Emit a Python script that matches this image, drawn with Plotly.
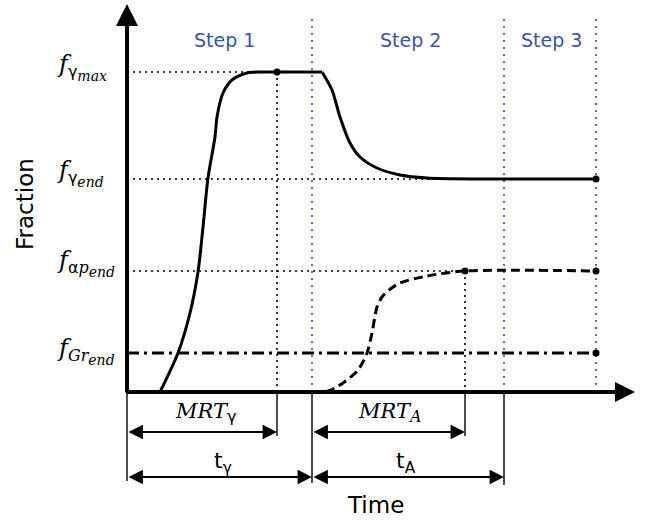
import plotly.graph_objects as go

# ---- key instants on the time axis (arbitrary units) ----
t_gamma_start = 33
t_mrt_gamma = 150
t_step1_end = 185
t_mrt_a = 338
t_step2_end = 377
t_step3_end = 469
t_axis_tip = 508

# ---- characteristic phase fractions (arbitrary units) ----
f_gamma_max = 320
f_gamma_end = 213
f_ap_end = 121
f_gr_end = 39
f_axis_tip = 388
f_step_line_top = 375

# ---- austenite fraction: formation in step 1, decomposition in step 2 ----
gamma_rise_t = [33, 51, 63, 71, 76, 81, 88, 90, 96, 105, 120, 133, 150, 195]
gamma_rise_f = [0, 39, 79, 120, 165, 214, 255, 275, 299, 312, 319, 320, 320, 320]
gamma_drop_t = [195, 205, 213, 223, 233, 250, 273, 300, 353, 469]
gamma_drop_f = [320, 302, 275, 249, 235, 224, 217, 214, 213, 213]

# ---- alpha + pearlite fraction formed in step 2 ----
ap_t = [185, 201, 216, 231, 240, 245, 250, 255, 262, 273, 300, 338, 469]
ap_f = [0, 1, 9, 22, 39, 59, 85, 95, 102, 109, 116, 121, 121]

# ---- graphite fraction ----
gr_t = [0, 469]
gr_f = [39, 39]

# ---- labels ----
step_labels = ["Step 1", "Step 2", "Step 3"]
step_label_t = [97, 283, 424]


def sub1(txt, sans=False):
    fam = "font-family:DejaVu Sans;" if sans else ""
    return f"<span style='font-size:16px;{fam}'>{txt}</span>"


def sub2(txt):
    return f"<sub><span style='font-size:14px'><i>{txt}</i></span></sub>"


level_labels = [
    "<i>f</i><sub>" + sub1("γ", True) + sub2("max") + "</sub>",
    "<i>f</i><sub>" + sub1("γ", True) + sub2("end") + "</sub>",
    "<i>f</i><sub>" + sub1("α", True) + sub1("<i>p</i>") + sub2("end") + "</sub>",
    "<i>f</i><sub>" + sub1("<i>Gr</i>") + sub2("end") + "</sub>",
]
level_values = [f_gamma_max, f_gamma_end, f_ap_end, f_gr_end]
level_label_offset = [5, 6, 8, 2]

BLUE = "#3c55a5"
BLUE_LINE = "#4a60b0"
SERIF = "DejaVu Serif"
SANS = "DejaVu Sans"

fig = go.Figure()


def seg_trace(segs, color, width, dash):
    xs, ys = [], []
    for (xa, ya), (xb, yb) in segs:
        xs += [xa, xb, None]
        ys += [ya, yb, None]
    return go.Scatter(x=xs, y=ys, mode="lines", hoverinfo="skip",
                      line=dict(color=color, width=width, dash=dash))


# black dotted guide lines
fig.add_trace(seg_trace([
    ((0, f_gamma_max), (t_mrt_gamma, f_gamma_max)),
    ((t_mrt_gamma, f_gamma_max), (t_mrt_gamma, 0)),
    ((0, f_gamma_end), (t_step3_end, f_gamma_end)),
    ((0, f_ap_end), (t_mrt_a, f_ap_end)),
    ((t_mrt_a, f_ap_end), (t_mrt_a, 0)),
], "black", 1.6, "2px,4px"))

# blue dotted step boundaries
fig.add_trace(seg_trace([
    ((t, 0), (t, f_step_line_top)) for t in (t_step1_end, t_step2_end, t_step3_end)
], BLUE_LINE, 1.8, "2px,5px"))

# thin reference ticks below the time axis
fig.add_trace(seg_trace([
    ((0, 0), (0, -89)),
    ((t_mrt_gamma, 0), (t_mrt_gamma, -44)),
    ((t_step1_end, 0), (t_step1_end, -91)),
    ((t_mrt_a, 0), (t_mrt_a, -44)),
    ((t_step2_end, 0), (t_step2_end, -93)),
], "black", 1.4, "solid"))

# graphite (dash-dot)
fig.add_trace(go.Scatter(x=gr_t, y=gr_f, mode="lines", hoverinfo="skip",
                         line=dict(color="black", width=3, dash="12px,5px,3px,5px")))
# alpha + pearlite (dashed)
fig.add_trace(go.Scatter(x=ap_t, y=ap_f, mode="lines", hoverinfo="skip",
                         line=dict(color="black", width=3, dash="9px,5px",
                                   shape="spline", smoothing=0.8)))
# austenite (solid)
fig.add_trace(go.Scatter(x=gamma_rise_t, y=gamma_rise_f, mode="lines", hoverinfo="skip",
                         line=dict(color="black", width=3, shape="spline", smoothing=0.8)))
fig.add_trace(go.Scatter(x=gamma_drop_t, y=gamma_drop_f, mode="lines", hoverinfo="skip",
                         line=dict(color="black", width=3, shape="spline", smoothing=0.8)))

# end-point markers
fig.add_trace(go.Scatter(
    x=[t_mrt_gamma, t_mrt_a, t_step3_end, t_step3_end, t_step3_end],
    y=[f_gamma_max, f_ap_end, f_gamma_end, f_ap_end, f_gr_end],
    mode="markers", hoverinfo="skip",
    marker=dict(color="black", size=7)))

ann = []

# main axes as arrows
ann.append(dict(x=0, y=f_axis_tip, ax=0, ay=-2, xref="x", yref="y", axref="x", ayref="y",
                text="", showarrow=True, arrowhead=2, arrowsize=1.1, arrowwidth=4,
                arrowcolor="black", standoff=0))
ann.append(dict(x=t_axis_tip, y=0, ax=-2, ay=0, xref="x", yref="y", axref="x", ayref="y",
                text="", showarrow=True, arrowhead=2, arrowsize=1.0, arrowwidth=4,
                arrowcolor="black", standoff=0))

# dimension arrows below the time axis
for t_a, t_b, yv in [(0, t_mrt_gamma, -40), (0, t_step1_end, -85),
                     (t_step1_end, t_mrt_a, -40), (t_step1_end, t_step2_end, -85)]:
    ann.append(dict(x=t_b, y=yv, ax=t_a, ay=yv, xref="x", yref="y", axref="x", ayref="y",
                    text="", showarrow=True, arrowhead=2, startarrowhead=2,
                    arrowside="end+start", arrowsize=1.6, startarrowsize=1.6,
                    arrowwidth=1.8, arrowcolor="black", standoff=0, startstandoff=0))

# step labels
for lab, t in zip(step_labels, step_label_t):
    ann.append(dict(x=t, y=352, xref="x", yref="y", text=lab, showarrow=False,
                    font=dict(family=SANS, size=19, color=BLUE)))

# fraction level labels
for lab, v, off in zip(level_labels, level_values, level_label_offset):
    ann.append(dict(x=-72, y=v + off, xref="x", yref="y", text=lab, showarrow=False,
                    xanchor="left", yanchor="middle",
                    font=dict(family=SERIF, size=24, color="black")))

# dimension labels
ann.append(dict(x=78, y=-20, xref="x", yref="y", showarrow=False,
                text="<i>MRT</i><sub>" + sub1("γ", True) + "</sub>",
                font=dict(family=SERIF, size=21, color="black")))
ann.append(dict(x=263, y=-20, xref="x", yref="y", showarrow=False,
                text="<i>MRT</i><sub>" + sub1("<i>A</i>") + "</sub>",
                font=dict(family=SERIF, size=21, color="black")))
ann.append(dict(x=96, y=-70, xref="x", yref="y", showarrow=False,
                text="t<sub>γ</sub>", font=dict(family=SANS, size=22, color="black")))
ann.append(dict(x=279, y=-70, xref="x", yref="y", showarrow=False,
                text="t<sub>A</sub>", font=dict(family=SANS, size=22, color="black")))

# axis titles
ann.append(dict(x=248, y=-113, xref="x", yref="y", showarrow=False, text="Time",
                font=dict(family=SANS, size=23, color="black")))
ann.append(dict(x=-102, y=188, xref="x", yref="y", showarrow=False, text="Fraction",
                textangle=-90, font=dict(family=SANS, size=23, color="black")))

fig.update_layout(
    width=647, height=521,
    margin=dict(l=0, r=0, t=0, b=0),
    paper_bgcolor="white", plot_bgcolor="white",
    showlegend=False,
    xaxis=dict(range=[-127, 520], visible=False, fixedrange=True),
    yaxis=dict(range=[-129, 392], visible=False, fixedrange=True),
    annotations=ann,
)

fig.write_html("out.html")
